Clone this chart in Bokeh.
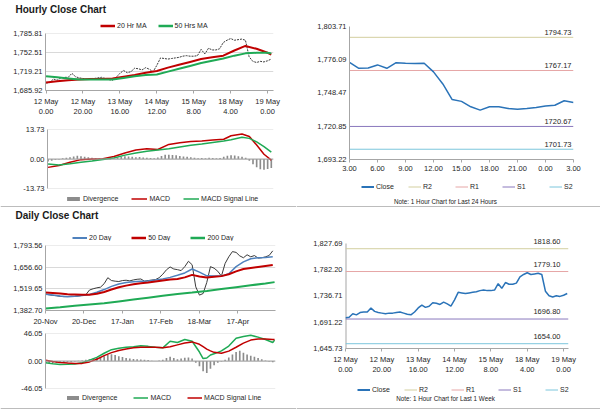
from bokeh.plotting import figure
from bokeh.models import Range1d, FixedTicker, Legend, LegendItem, Span, Label
from bokeh.layouts import column, row
from bokeh.embed import file_html
from bokeh.resources import INLINE

FONT = "Liberation Sans"
TXT = "#262626"
AX = "#a6a6a6"
GRID = "#d9d9d9"
RED = "#c00000"
GREEN = "#1faa55"
BLUE = "#4f81bd"
CLOSE_BLUE = "#2a73b8"
BAR_GRAY = "#8c8c8c"
OHLC = "#3a3a3a"
LEVEL_COLORS = ["#d3cf9f", "#e6a6a6", "#8a78bd", "#7cc6dc"]

# ------------------------------------------------------------------ data
# hourly (last week), trading hours since 12 May 0.00
week_hours = list(range(0, 123, 2))
week_close = [1699, 1700, 1706, 1704, 1708, 1709, 1709, 1716, 1710, 1708,
              1707, 1706, 1707, 1707, 1708, 1709, 1707, 1705, 1704, 1709,
              1716, 1721, 1717, 1719, 1725, 1724, 1722, 1726, 1723, 1719,
              1730, 1743, 1742, 1741, 1742, 1743, 1744, 1746, 1747, 1746,
              1746, 1747, 1758, 1750, 1760, 1757, 1757, 1759, 1770, 1774,
              1777, 1774, 1775, 1776, 1774, 1745, 1737, 1735, 1737, 1736,
              1738, 1741]
ma_hours = [0, 6, 12, 18, 24, 30, 36, 42, 48, 54, 60, 66, 72, 78, 84, 90, 96, 102, 108, 114, 120, 122]
ma20_hr = [1700, 1702, 1704, 1705, 1706, 1706, 1707, 1710, 1713, 1717, 1720, 1726, 1731, 1736,
           1741, 1744, 1747, 1756, 1764, 1759, 1752, 1749]
ma50_hr = [1711, 1709, 1707, 1705, 1705, 1705, 1705, 1708, 1711, 1713, 1714, 1719, 1724, 1729,
           1734, 1738, 1742, 1747, 1751, 1752, 1752, 1751]
macd_hours = [0, 6, 12, 18, 24, 30, 36, 42, 48, 54, 60, 66, 72, 78, 84, 90, 96, 100, 106, 110, 114, 118, 122]
macd_hr = [-3.9, -3.0, -1.5, -0.3, 0.0, 0.1, 1.2, 2.8, 4.2, 4.8, 4.4, 6.8, 7.6, 8.1, 8.4, 8.9, 9.2,
           10.8, 11.6, 10.5, 6.5, 2.2, -0.5]
signal_hr = [-2.3, -2.8, -2.2, -1.5, -0.9, -0.2, 0.5, 1.8, 2.8, 3.6, 4.2, 4.8, 5.6, 6.4, 7.0, 7.7,
             8.4, 9.0, 10.1, 9.6, 8.0, 5.8, 3.2]
div_hr = [-1.2, -0.8, -0.3, -0.2, 0.3, 0.6, 0.8, 1.2, 1.5, 1.3,
          1.0, 0.8, 0.6, 0.5, 0.4, 0.3, 0.1, -0.2, 0.2, 0.6,
          1.0, 1.3, 1.2, 1.0, 0.8, 0.9, 0.7, 0.6, 0.5, 0.4,
          0.7, 1.4, 2.0, 2.0, 1.9, 1.7, 1.4, 1.2, 1.0, 0.8,
          0.6, 0.4, 0.5, 0.4, 0.6, 0.5, 0.4, 0.5, 1.0, 1.5,
          1.8, 1.6, 1.3, 1.0, 0.6, -0.8, -2.5, -3.8, -4.8, -5.0,
          -4.6, -4.2]
week_ticks = [0, 20, 40, 60, 80, 100, 120]
week_tick_labels = ["12 May\n0.00", "12 May\n20.00", "13 May\n16.00", "14 May\n12.00",
                    "15 May\n8.00", "18 May\n4.00", "19 May\n0.00"]
hp_yticks = [1685.92, 1719.21, 1752.51, 1785.81]
hm_yticks = [-13.73, 0.00, 13.73]

# last 24 hours
day_hours = list(range(25))
day_close = [1774.0, 1769.0, 1769.3, 1771.8, 1769.0, 1773.7, 1773.2, 1772.9, 1773.2, 1766.0,
             1756.0, 1743.0, 1741.5, 1737.0, 1734.2, 1737.0, 1737.0, 1735.6, 1735.0, 1735.6,
             1736.4, 1737.6, 1738.3, 1742.0, 1740.6]
day_ticks = [0, 3, 6, 9, 12, 15, 18, 21, 24]
day_tick_labels = ["3.00", "6.00", "9.00", "12.00", "15.00", "18.00", "21.00", "0.00", "3.00"]
rt_yticks = [1693.22, 1720.85, 1748.47, 1776.09, 1803.71]
level_names = ["R2", "R1", "S1", "S2"]
levels_24h = [1794.73, 1767.17, 1720.67, 1701.73]
rb_yticks = [1645.73, 1691.22, 1736.71, 1782.20, 1827.69]
levels_week = [1818.60, 1779.10, 1696.80, 1654.00]

# daily, trading days since 20-Nov
daily_days = list(range(0, 125, 2))
daily_close = [1486, 1482, 1478, 1476, 1472, 1470, 1471, 1473, 1472, 1474,
               1478, 1482, 1512, 1520, 1526, 1530, 1552, 1590, 1572, 1568,
               1566, 1572, 1574, 1570, 1576, 1580, 1582, 1568, 1572, 1575,
               1578, 1590, 1612, 1640, 1658, 1645, 1641, 1635, 1660, 1694,
               1672, 1532, 1480, 1490, 1560, 1660, 1650, 1631, 1600, 1680,
               1722, 1755, 1750, 1728, 1716, 1735, 1722, 1730, 1714, 1716,
               1722, 1730, 1760]
ma_days = list(range(0, 125, 4))
ma20_day = [1486, 1480, 1474, 1470, 1472, 1478, 1484, 1498, 1515, 1535, 1550, 1560, 1565, 1568,
            1569, 1575, 1582, 1592, 1605, 1620, 1645, 1625, 1602, 1600, 1600, 1615, 1660, 1690,
            1710, 1716, 1718, 1722]
ma50_day = [1496, 1494, 1490, 1486, 1484, 1482, 1482, 1488, 1500, 1515, 1530, 1540, 1548, 1555,
            1560, 1566, 1572, 1578, 1582, 1592, 1608, 1598, 1592, 1596, 1600, 1612, 1630, 1645,
            1652, 1658, 1664, 1670]
ma200_days = [0, 8, 16, 24, 32, 40, 48, 56, 64, 72, 80, 88, 96, 104, 112, 120, 125]
ma200_day = [1395, 1403, 1412, 1420, 1428, 1440, 1452, 1464, 1476, 1487, 1496, 1506, 1518, 1530,
             1542, 1554, 1562]
dmacd_days = [0, 4, 8, 12, 16, 20, 24, 28, 32, 36, 40, 44, 48, 52, 56, 60, 64, 68, 72, 76, 80, 84,
              86, 88, 90, 92, 96, 100, 104, 108, 112, 116, 120, 124, 125]
macd_day = [-2.9, -4.5, -5.8, -5.5, -5.0, -3.0, 1.5, 6.0, 13.0, 19.0, 21.5, 23.0, 24.0, 25.5, 24.5,
            23.0, 22.0, 33.0, 31.0, 36.0, 33.0, 15.0, 4.0, 5.0, 10.0, 12.0, 17.0, 25.0, 38.0, 41.0,
            43.0, 40.0, 36.0, 31.0, 35.0]
signal_day = [1.2, -1.0, -2.5, -3.5, -4.3, -4.0, -1.5, 3.0, 9.0, 14.0, 17.5, 20.0, 22.0, 23.0, 23.0,
              23.0, 22.0, 24.0, 27.0, 30.0, 32.0, 28.0, 24.0, 20.0, 17.0, 14.5, 13.0, 16.5, 23.0,
              30.0, 35.0, 37.0, 37.0, 36.0, 36.0]
div_day = [-4, -3.5, -3.5, -3.3, -3.3, -2.5, -2.0, -1.5, -0.8, 0.3,
           1.0, 2.0, 3.0, 4.0, 5.0, 6.0, 8.0, 10.0, 11.5, 10.0,
           8.0, 6.5, 5.0, 4.0, 3.5, 3.0, 2.5, 2.0, 1.5, 0.5,
           0.0, 1.0, 2.0, 5.0, 7.0, 5.0, 3.0, 4.0, 5.5, 6.0,
           4.0, -3.0, -9.0, -17.0, -20.0, -13.0, -7.0, -3.0, -1.0, 2.0,
           6.0, 11.0, 15.0, 17.0, 14.0, 11.0, 9.0, 7.0, 5.0, 3.0,
           1.0, -1.0, -2.0]
daily_ticks = [0, 21, 42, 63, 84, 105]
daily_tick_labels = ["20-Nov", "20-Dec", "17-Jan", "17-Feb", "18-Mar", "17-Apr"]
dp_yticks = [1382.70, 1519.65, 1656.60, 1793.56]
dm_yticks = [-46.05, 0.00, 46.05]


# ------------------------------------------------------------------ helpers
def make_fig(w, h, left, right, top, bottom, xr, yticks, grid=False, top_ext=0.0):
    lo, hi = yticks[0], yticks[-1]
    e = (hi - lo) * 1e-4
    p = figure(width=w, height=h, x_range=Range1d(*xr), y_range=Range1d(lo - e, hi + e + top_ext * (hi - lo)),
               output_backend="svg", toolbar_location=None, frame_align=False,
               min_border_left=left, min_border_right=right,
               min_border_top=top, min_border_bottom=bottom)
    p.outline_line_color = None
    p.xgrid.grid_line_color = None
    p.ygrid.grid_line_color = GRID if grid else None
    for ax in (p.xaxis[0], p.yaxis[0]):
        ax.axis_line_color = AX
        ax.major_tick_line_color = AX
        ax.major_tick_out = 3
        ax.major_tick_in = 0
        ax.minor_tick_line_color = None
        ax.major_label_text_font = FONT
        ax.major_label_text_font_size = "7.5px"
        ax.major_label_text_color = TXT
        ax.major_label_standoff = 3
    p.yaxis.major_tick_out = 0
    p.yaxis.ticker = FixedTicker(ticks=yticks)
    p.yaxis.major_label_overrides = {t: f"{t:,.2f}" for t in yticks}
    if top_ext:
        # axis line only over the labelled span
        p.yaxis.axis_line_color = None
        p.segment(x0=[xr[0]], y0=[lo], x1=[xr[0]], y1=[hi], line_color=AX, line_width=2)
    return p


def set_xticks(p, ticks, labels):
    p.xaxis.ticker = FixedTicker(ticks=ticks)
    p.xaxis.major_label_overrides = {t: l for t, l in zip(ticks, labels)}


def strip(w, h, rule_below=False):
    s = figure(width=w, height=h, x_range=Range1d(0, w), y_range=Range1d(0, h),
               x_axis_type=None, y_axis_type=None, output_backend="svg",
               toolbar_location=None, frame_align=False,
               min_border_left=0, min_border_right=0, min_border_top=0, min_border_bottom=0)
    s.outline_line_color = None
    s.grid.visible = False
    if rule_below:
        # section separator along the bottom edge of the strip
        s.add_layout(Span(location=0.6, dimension="width", line_color=AX, line_width=1.2))
    return s


def strip_legend(s, entries, loc, spacing, glyph_w=15):
    # legend-only renderers: they carry the series data but are hidden in the strip
    items = []
    for label, kind, color, lw, xs, ys in entries:
        if kind == "bar":
            r = s.vbar(x=xs, top=ys, width=1, fill_color=color, line_color=None)
        else:
            r = s.line(x=xs, y=ys, line_color=color, line_width=lw)
        r.visible = False
        items.append(LegendItem(label=label, renderers=[r]))
    lg = Legend(items=items, orientation="horizontal", location=loc,
                label_text_font=FONT, label_text_font_size="7px", label_text_color=TXT,
                glyph_width=glyph_w, glyph_height=5, label_standoff=2, spacing=spacing,
                padding=0, margin=0, border_line_color=None, background_fill_alpha=0,
                label_height=8, inactive_fill_alpha=0)
    s.add_layout(lg)


def strip_text(s, text, x, y, size, bold=False, align="left"):
    s.add_layout(Label(x=x, y=y, x_units="screen", y_units="screen", text=text,
                       text_align=align, text_baseline="middle", text_font=FONT,
                       text_font_size=size, text_font_style="bold" if bold else "normal",
                       text_color="#1a1a1a"))


def levels(p, xr, vals, off):
    for v, c in zip(vals, LEVEL_COLORS):
        p.line(x=[xr[0], xr[1]], y=[v, v], line_color=c, line_width=1)
        p.add_layout(Label(x=xr[1], y=v, text=f"{v:.2f}", text_align="right", text_baseline="bottom",
                           x_offset=off[0], y_offset=off[1], text_font=FONT,
                           text_font_size="7.5px", text_color=TXT))


def level_entries(xs, ys, lvls):
    ent = [("Close", "line", CLOSE_BLUE, 2, xs, ys)]
    for n, c, v in zip(level_names, LEVEL_COLORS, lvls):
        ent.append((n, "line", c, 1, [xs[0], xs[-1]], [v, v]))
    return ent


LW = 296
RW = 304

# ------------------------------------------------------------------ hourly block
t1 = strip(LW, 18)
strip_text(t1, "Hourly Close Chart", 15, 8.7, "10px", bold=True)

hpl = strip(LW, 11)
strip_legend(hpl, [("20 Hr MA", "line", RED, 2.5, ma_hours, ma20_hr),
                   ("50 Hrs MA", "line", GREEN, 2.5, ma_hours, ma50_hr)], (100, 0), 11)

hp_xr = (-0.3, 123.2)
hp = make_fig(LW, 92, 45, 23, 4, 31, hp_xr, hp_yticks, grid=True)
set_xticks(hp, week_ticks, week_tick_labels)
hp.line(week_hours, week_close, line_color=OHLC, line_width=1, line_dash="2 1")
hp.line(ma_hours, ma20_hr, line_color=RED, line_width=2)
hp.line(ma_hours, ma50_hr, line_color=GREEN, line_width=2)

hm = make_fig(LW, 71, 47, 23, 8, 4, hp_xr, hm_yticks, grid=True)
hm.xaxis.visible = False
hm.add_layout(Span(location=0, dimension="width", line_color=AX, line_width=1))
hm.vbar(x=week_hours, top=div_hr, bottom=0, width=0.9, fill_color=BAR_GRAY, line_color=None)
hm.line(macd_hours, macd_hr, line_color=RED, line_width=1.5)
hm.line(macd_hours, signal_hr, line_color=GREEN, line_width=1.5)

hml = strip(LW, 15, rule_below=True)
strip_legend(hml, [("Divergence", "bar", BAR_GRAY, 1, week_hours, div_hr),
                   ("MACD", "line", RED, 1.5, macd_hours, macd_hr),
                   ("MACD Signal Line", "line", GREEN, 1.5, macd_hours, signal_hr)], (65, 5), 13, glyph_w=16)

# ------------------------------------------------------------------ 24h block
rt_xr = (0, 24)
rt = make_fig(RW, 176, 53, 27, 26, 17, rt_xr, rt_yticks)
set_xticks(rt, day_ticks, day_tick_labels)
levels(rt, rt_xr, levels_24h, (-2, 2))
rt.line(day_hours, day_close, line_color=CLOSE_BLUE, line_width=1.5)

rtl = strip(RW, 31, rule_below=True)
strip_legend(rtl, level_entries(day_hours, day_close, levels_24h), (65, 17), 12, glyph_w=13)
strip_text(rtl, "Note: 1 Hour Chart for Last 24 Hours", 149, 6, "6.3px", align="center")

# ------------------------------------------------------------------ daily block
t2 = strip(LW, 34)
strip_text(t2, "Daily Close Chart", 15, 26, "10px", bold=True)
strip_legend(t2, [("20 Day", "line", BLUE, 2, ma_days, ma20_day),
                  ("50 Day", "line", RED, 2.5, ma_days, ma50_day),
                  ("200 Day", "line", GREEN, 2.5, ma200_days, ma200_day)], (72, 0), 20)

dp_xr = (0, 125.5)
dp = make_fig(LW, 87, 45, 21, 4, 15, dp_xr, dp_yticks, grid=True)
set_xticks(dp, daily_ticks, daily_tick_labels)
dp.line(daily_days, daily_close, line_color=OHLC, line_width=1)
dp.line(ma_days, ma20_day, line_color=BLUE, line_width=1.5)
dp.line(ma_days, ma50_day, line_color=RED, line_width=2)
dp.line(ma200_days, ma200_day, line_color=GREEN, line_width=2)

dm = make_fig(LW, 64, 45, 21, 5, 4, dp_xr, dm_yticks, grid=True)
dm.xaxis.visible = False
dm.add_layout(Span(location=0, dimension="width", line_color=AX, line_width=1))
dm.vbar(x=daily_days, top=div_day, bottom=0, width=0.9, fill_color=BAR_GRAY, line_color=None)
dm.line(dmacd_days, macd_day, line_color=GREEN, line_width=1.5)
dm.line(dmacd_days, signal_day, line_color=RED, line_width=1.5)

dml = strip(LW, 17, rule_below=True)
strip_legend(dml, [("Divergence", "bar", BAR_GRAY, 1, daily_days, div_day),
                   ("MACD", "line", GREEN, 1.5, dmacd_days, macd_day),
                   ("MACD Signal Line", "line", RED, 1.5, dmacd_days, signal_day)], (65, 8), 16)

# ------------------------------------------------------------------ week block
rb_xr = (0, 122.7)
rbf = make_fig(RW, 173, 49, 32, 26, 32, rb_xr, rb_yticks, top_ext=10 / 105.3)
set_xticks(rbf, week_ticks, week_tick_labels)
levels(rbf, rb_xr, levels_week, (-8, 5))
rbf.line(week_hours, week_close, line_color=CLOSE_BLUE, line_width=1.5)

rbl = strip(RW, 29, rule_below=True)
strip_legend(rbl, level_entries(week_hours, week_close, levels_week), (61, 16), 12, glyph_w=13)
strip_text(rbl, "Note: 1 Hour Chart for Last 1 Week", 149, 11, "6.3px", align="center")

# ------------------------------------------------------------------ layout
sec1 = row(column(t1, hpl, hp, hm, hml), column(rt, rtl))
sec2 = row(column(t2, dp, dm, dml), column(rbf, rbl))
page = column(sec1, sec2)

open("out.html", "w").write(file_html(page, INLINE))
